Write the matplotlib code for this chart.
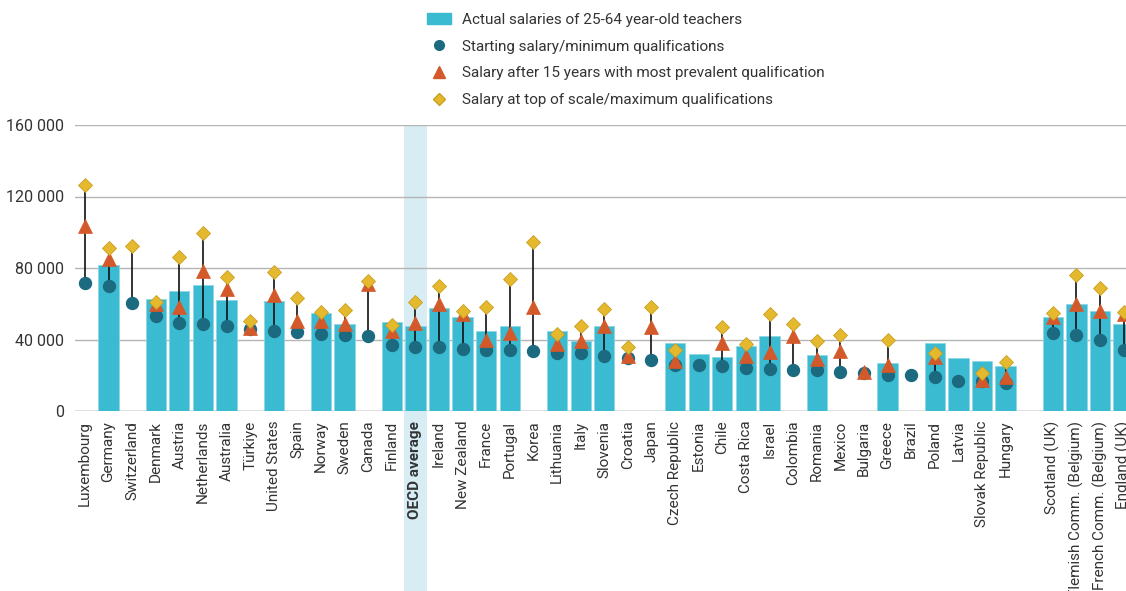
import numpy as np
import matplotlib
matplotlib.use("Agg")
import matplotlib.pyplot as plt
from matplotlib.lines import Line2D
from matplotlib.patches import Patch, Rectangle
from matplotlib.transforms import blended_transform_factory

nan = np.nan

countries = ["Luxembourg", "Germany", "Switzerland", "Denmark", "Austria", "Netherlands",
             "Australia", "Türkiye", "United States", "Spain", "Norway", "Sweden", "Canada",
             "Finland", "OECD average", "Ireland", "New Zealand", "France", "Portugal", "Korea",
             "Lithuania", "Italy", "Slovenia", "Croatia", "Japan", "Czech Republic", "Estonia",
             "Chile", "Costa Rica", "Israel", "Colombia", "Romania", "Mexico", "Bulgaria",
             "Greece", "Brazil", "Poland", "Latvia", "Slovak Republic", "Hungary", "",
             "Scotland (UK)", "Flemish Comm. (Belgium)", "French Comm. (Belgium)", "England (UK)"]

actual = [nan, 81700, nan, 62900, 67300, 70500, 62300, nan, 61800, nan, 55100, 48400, nan,
          50000, 47800, 57900, 52500, 45000, 47300, nan, 44500, 38900, 47600, nan, nan, 37800,
          31800, 30000, 36500, 42000, nan, 31400, nan, nan, 27000, nan, 38100, 29800, 27700,
          24900, nan, 52700, 60100, 56000, 48400]

starting = [71400, 70000, 60500, 53000, 49300, 48600, 47600, 45800, 44700, 44100, 42800, 42600,
            41900, 37200, 35900, 35700, 34600, 34200, 33900, 33300, 32600, 32700, 30900, 29800,
            28300, 25900, 25700, 25100, 24200, 23300, 23100, 22900, 21600, 21000, 20100, 19900,
            18800, 16600, 16600, 15600, nan, 43500, 42400, 40000, 34200]

after15 = [103600, 85000, nan, 59900, 58000, 78500, 68300, 46500, 65100, 50600, 50600, 48700,
           71000, 45000, 49100, 59900, 54300, 40000, 43500, 58400, 37600, 39100, 47600, 30500,
           46900, 27900, nan, 38000, 30500, 33100, 42000, 29200, 33300, 22000, 26000, nan,
           30100, nan, 17500, 19000, nan, 52800, 59900, 56200, 54000]

top_scale = [126300, 91200, 92300, 61200, 86300, 99400, 75000, 50600, 77800, 63400, 55400, 56600,
             72600, 48200, 60800, 70000, 55800, 58400, 73700, 94300, 42800, 47600, 57300, 35700,
             58000, 33900, nan, 46900, 37400, 54300, 48700, 39400, 42400, nan, 39800, nan,
             32400, nan, 21200, 27200, nan, 54700, 75900, 69000, 55300]

yticks = [0, 40000, 80000, 120000, 160000]
ytick_labels = ["0", "40 000", "80 000", "120 000", "160 000"]

legend_labels = ["Actual salaries of 25-64 year-old teachers",
                 "Starting salary/minimum qualifications",
                 "Salary after 15 years with most prevalent qualification",
                 "Salary at top of scale/maximum qualifications"]

c_bar = "#3bbbd1"
c_start = "#1b6a80"
c_15 = "#d4592a"
c_top = "#e5b92e"
c_text = "#333333"

plt.rcParams['font.family'] = ['Roboto', 'DejaVu Sans']

W, H = 1126, 591
fig = plt.figure(figsize=(W / 100, H / 100), dpi=100)
ax = fig.add_axes([75 / W, 1 - 411 / H, 1 - 75 / W, 286 / H])

x = np.arange(len(countries))
actual = np.array(actual, dtype=float)
starting = np.array(starting, dtype=float)
after15 = np.array(after15, dtype=float)
top_scale = np.array(top_scale, dtype=float)

# OECD average highlight band, running down through the labels
oecd = countries.index("OECD average")
trans = blended_transform_factory(ax.transData, fig.transFigure)
ax.add_patch(Rectangle((oecd - 0.5, 0), 1, 1 - 125 / H, transform=trans,
                       color="#d7ecf3", zorder=0, clip_on=False, lw=0))

ax.bar(x, actual, width=0.86, color=c_bar, edgecolor="#8fd6e3", linewidth=0.6, zorder=2)

stack = np.vstack([starting, after15, top_scale])
lo = np.nanmin(stack, axis=0)
hi = np.nanmax(stack, axis=0)
ok = ~np.isnan(lo)
ax.vlines(x[ok], lo[ok], hi[ok], color="#111111", lw=1.2, zorder=3)

ax.plot(x, starting, "o", ms=8.6, color=c_start, mec=c_start, ls="none", zorder=4)
ax.plot(x, after15, "^", ms=9.5, color=c_15, mec=c_15, mew=0.5, ls="none", zorder=5)
ax.plot(x, top_scale, "D", ms=7.0, color=c_top, mec="#c99e22", mew=0.6, ls="none", zorder=6)

ax.set_ylim(0, 160000)
ax.set_xlim(-0.42, 44.1)
ax.set_yticks(yticks)
ax.set_yticklabels(ytick_labels, fontsize=11.5, color=c_text)
ax.tick_params(axis="y", length=0, pad=8)
ax.set_xticks(x)
ax.set_xticklabels(countries, rotation=90, fontsize=11, color=c_text)
ax.tick_params(axis="x", length=0, pad=7)
ax.get_xticklabels()[oecd].set_fontweight("bold")

ax.set_axisbelow(True)
ax.yaxis.grid(True, color="#b5b5b5", lw=1)
for s in ax.spines.values():
    s.set_visible(False)
ax.axhline(0, color="#9a9a9a", lw=1, zorder=1)

handles = [Patch(color=c_bar),
           Line2D([], [], marker="o", ls="none", color=c_start, ms=7),
           Line2D([], [], marker="^", ls="none", color=c_15, ms=8),
           Line2D([], [], marker="D", ls="none", color=c_top, mec="#c99e22", ms=6)]
fig.legend(handles, legend_labels, loc="upper left", bbox_to_anchor=(427 / W, 1 - 13 / H),
           frameon=False, fontsize=11, labelcolor=c_text, handlelength=1.6,
           handletextpad=0.7, labelspacing=0.83, borderpad=0, borderaxespad=0)

fig.savefig("out.png", dpi=100)
